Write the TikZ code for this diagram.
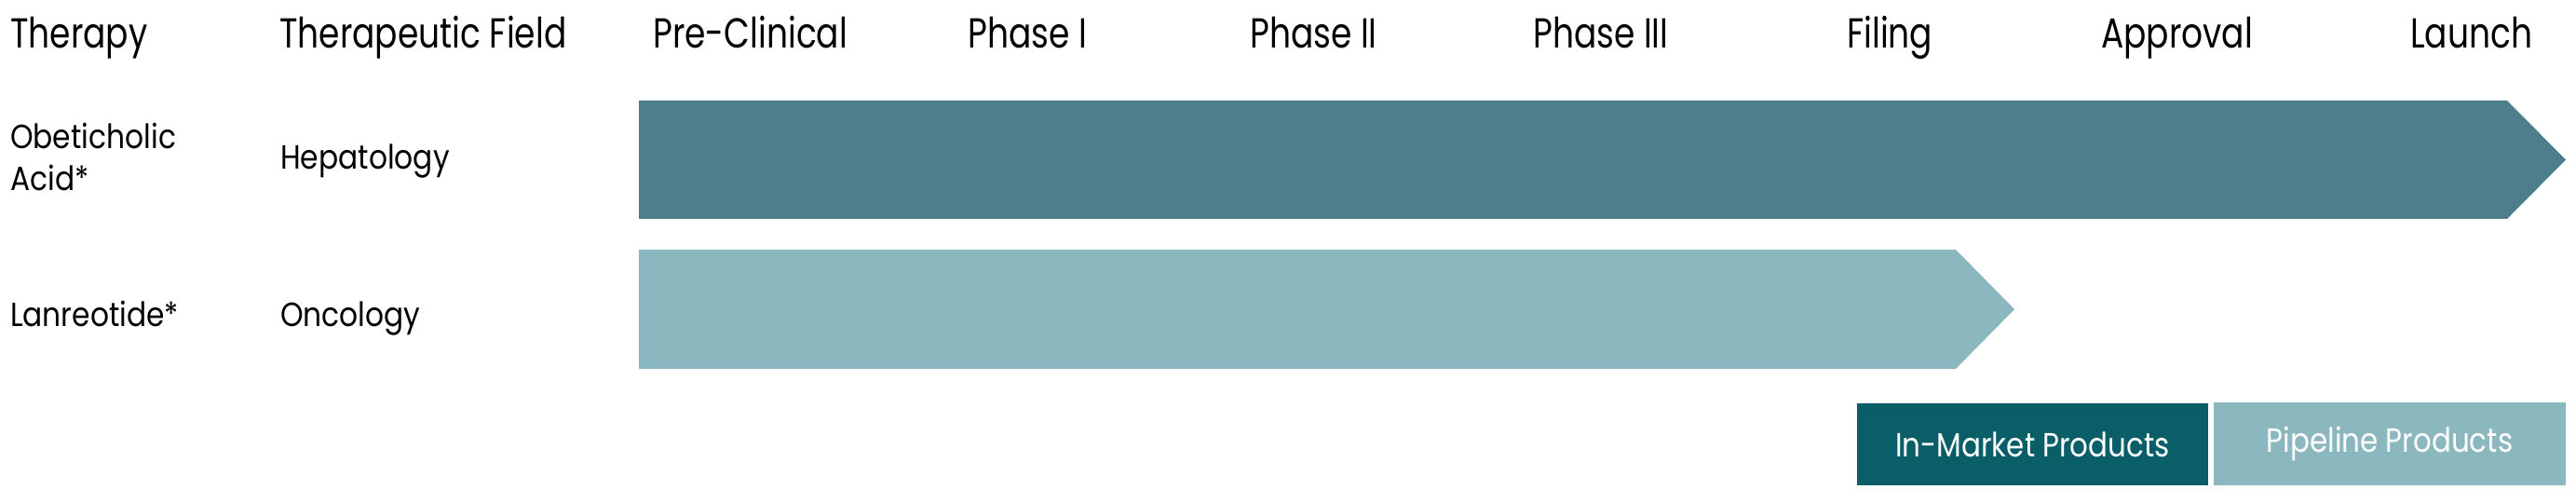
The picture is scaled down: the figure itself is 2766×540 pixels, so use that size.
\documentclass[tikz,border=0pt]{standalone}
\usepackage{fontspec}
\setmainfont{Poppins}
\newfontfamily\hdfont[FakeStretch=0.8]{Poppins}
\newfontfamily\bdfont[FakeStretch=0.87]{Poppins}
\newfontfamily\lgfont[FakeStretch=0.86]{Poppins}
\definecolor{darkbar}{RGB}{76,127,137}
\definecolor{lightbar}{RGB}{139,183,190}
\definecolor{legdark}{RGB}{10,94,104}
\tikzset{
  hd/.style={anchor=base west, inner sep=0pt, font=\hdfont\fontsize{45}{54}\selectfont},
  bd/.style={anchor=base west, inner sep=0pt, align=left, font=\bdfont\fontsize{36}{45}\selectfont},
  legbox/.style={inner sep=0pt, text=white, font=\lgfont\fontsize{36}{40}\selectfont},
}
\begin{document}
\begin{tikzpicture}[x=1pt,y=-1pt]
\useasboundingbox (0,0) rectangle (2766,540);
% headers
\node[hd] (hTherapy) at (11,52) {Therapy};
\node[hd] (hField) at (300,52) {Therapeutic Field};
\node[hd] (hPre) at (701,52) {Pre-Clinical};
\node[hd] (hP1) at (1039,52) {Phase I};
\node[hd] (hP2) at (1342,52) {Phase II};
\node[hd] (hP3) at (1646,52) {Phase III};
\node[hd] (hFil) at (1983,52) {Filing};
\node[hd] (hApp) at (2256,52) {Approval};
\node[hd] (hLau) at (2588,52) {Launch};
% rows
\node[bd] (t1a) at (11,160) {Obeticholic};
\node[bd] (t1b) at (11,205) {Acid*};
\node[bd] (f1) at (301,182) {Hepatology};
\node[bd] (t2) at (11,350) {Lanreotide*};
\node[bd] (f2) at (301,350) {Oncology};
% bars
\fill[darkbar] (686,108) -- (2692,108) -- (2755,171.5) -- (2692,235) -- (686,235) -- cycle;
\fill[lightbar] (686,268) -- (2100,268) -- (2163,332) -- (2100,396) -- (686,396) -- cycle;
% legend
\node[legbox, fill=legdark, minimum width=377pt, minimum height=88pt] (lin) at (2182.5,477) {In-Market Products};
\node[legbox, fill=lightbar, minimum width=378pt, minimum height=89pt] (lpi) at (2566,476.5) {Pipeline Products};
\end{tikzpicture}
\end{document}
